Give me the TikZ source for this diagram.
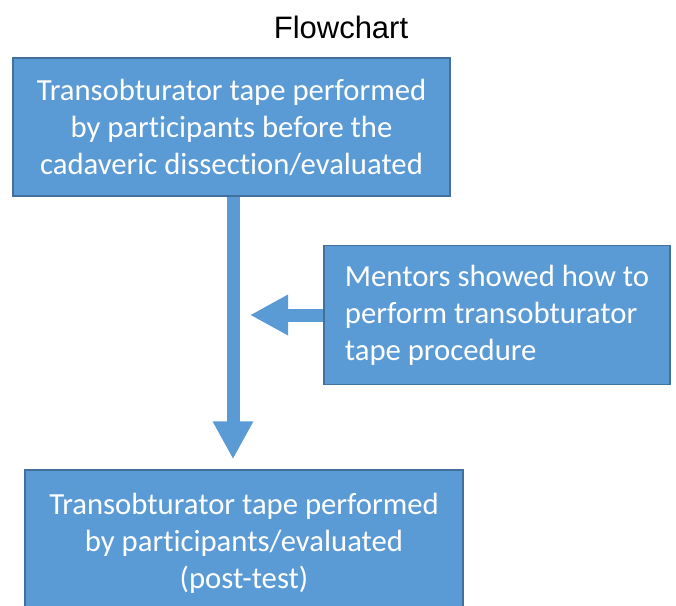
\documentclass[tikz,border=0pt]{standalone}
\usepackage{fontspec}
\setmainfont{Carlito}[Ligatures=NoCommon]
\newfontfamily\titlefont{Liberation Sans}
\usetikzlibrary{arrows.meta,positioning}
\definecolor{boxblue}{HTML}{5B9BD5}
\definecolor{boxedge}{HTML}{41719C}
\tikzstyle{stepbox} = [draw=boxedge, line width=1.5pt, fill=boxblue, text=white, align=center, minimum width=437pt, minimum height=138pt, inner sep=0pt, font=\fontsize{30.7}{37}\selectfont]
\tikzstyle{notebox} = [stepbox, align=left, minimum width=346pt, minimum height=139pt]
\tikzstyle{arrow} = [draw=boxblue, line width=13pt, -{Triangle[width=38pt,length=38pt]}]
\begin{document}
\begin{tikzpicture}[x=1pt,y=1pt]
\useasboundingbox (0,0) rectangle (676,-605);
\node (title) at (341,-27) {\titlefont\fontsize{31}{37}\selectfont Flowchart};
\path (231.5,-127) node (s1) [stepbox] {Transobturator tape performed\\by participants before the\\cadaveric dissection/evaluated};
\path (s1)+(265.5,-188) node (s2) [notebox] {Mentors showed how to\\perform transobturator\\tape procedure};
\path (s1)+(12.5,-416) node (s3) [stepbox, minimum width=438pt, minimum height=146pt] {Transobturator tape performed\\by participants/evaluated\\(post-test)};

\coordinate (c1) at ([xshift=1.5pt]s1.south);
\path [arrow, shorten >=10pt] (c1) -- (c1 |- s3.north);
\path [arrow, shorten >=17pt] (s2.west) -- (c1 |- s2.west);
\end{tikzpicture}
\end{document}
